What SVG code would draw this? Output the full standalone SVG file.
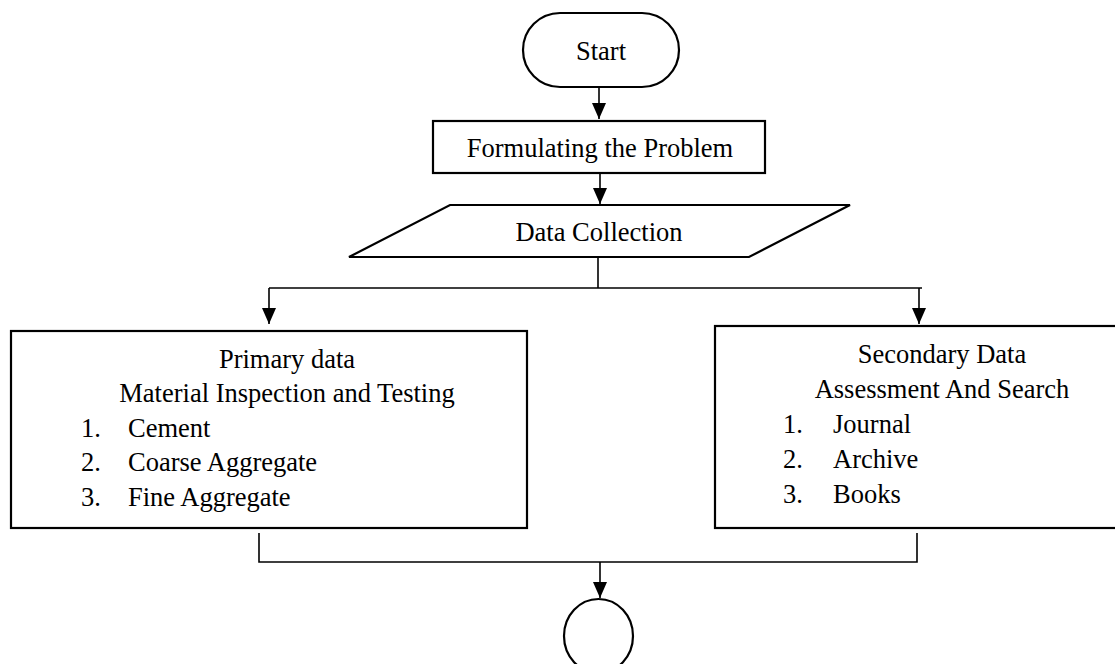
<svg xmlns="http://www.w3.org/2000/svg" width="1115" height="664" viewBox="0 0 1115 664">
<defs>
<marker id="ah" markerWidth="16" markerHeight="14" refX="16" refY="7" orient="auto" markerUnits="userSpaceOnUse" viewBox="0 0 16 14">
<path d="M0,0 L16,7 L0,14 Z" fill="#000"/>
</marker>
<style>
.shape{fill:#fff;stroke:#000;stroke-width:2.2}
.t{font-family:"Liberation Serif","Times New Roman",serif;font-size:26.5px;fill:#000}
.c{text-anchor:middle}
.ln{fill:none;stroke:#000;stroke-width:1.6}
</style>
</defs>
<rect width="1115" height="664" fill="#fff"/>
<g id="connectors">
<line class="ln" x1="599" y1="87" x2="599" y2="119" marker-end="url(#ah)"/>
<line class="ln" x1="600" y1="173" x2="600" y2="204" marker-end="url(#ah)"/>
<polyline class="ln" points="598,257 598,288"/>
<polyline class="ln" points="269,288 922,288"/>
<line class="ln" x1="269" y1="288" x2="269" y2="324" marker-end="url(#ah)"/>
<line class="ln" x1="919" y1="288" x2="919" y2="324" marker-end="url(#ah)"/>
<polyline class="ln" points="259,533 259,562 917,562 917,533"/>
<line class="ln" x1="600" y1="562" x2="600" y2="598" marker-end="url(#ah)"/>
</g>
<g id="start">
<rect class="shape" x="523" y="13" width="156" height="74" rx="37" ry="37"/>
<text class="t c" x="601" y="60">Start</text>
</g>
<g id="formulate">
<rect class="shape" x="433" y="121" width="332" height="52"/>
<text class="t c" x="600" y="157">Formulating the Problem</text>
</g>
<g id="datacollection">
<polygon class="shape" points="450,205 850,205 749,257 349,257"/>
<text class="t c" x="599" y="241">Data Collection</text>
</g>
<g id="primary">
<rect class="shape" x="11" y="331" width="516" height="197"/>
<text class="t c" x="287" y="368">Primary data</text>
<text class="t c" x="287" y="402">Material Inspection and Testing</text>
<text class="t" x="81" y="437">1.</text><text class="t" x="128" y="437">Cement</text>
<text class="t" x="81" y="471">2.</text><text class="t" x="128" y="471">Coarse Aggregate</text>
<text class="t" x="81" y="506">3.</text><text class="t" x="128" y="506">Fine Aggregate</text>
</g>
<g id="secondary">
<rect class="shape" x="715" y="326" width="408" height="202"/>
<text class="t c" x="942" y="363">Secondary Data</text>
<text class="t c" x="942" y="398">Assessment And Search</text>
<text class="t" x="783" y="433">1.</text><text class="t" x="833" y="433">Journal</text>
<text class="t" x="783" y="468">2.</text><text class="t" x="833" y="468">Archive</text>
<text class="t" x="783" y="503">3.</text><text class="t" x="833" y="503">Books</text>
</g>
<g id="connector-end">
<ellipse class="shape" cx="598.5" cy="636" rx="34.5" ry="37"/>
</g>
</svg>
